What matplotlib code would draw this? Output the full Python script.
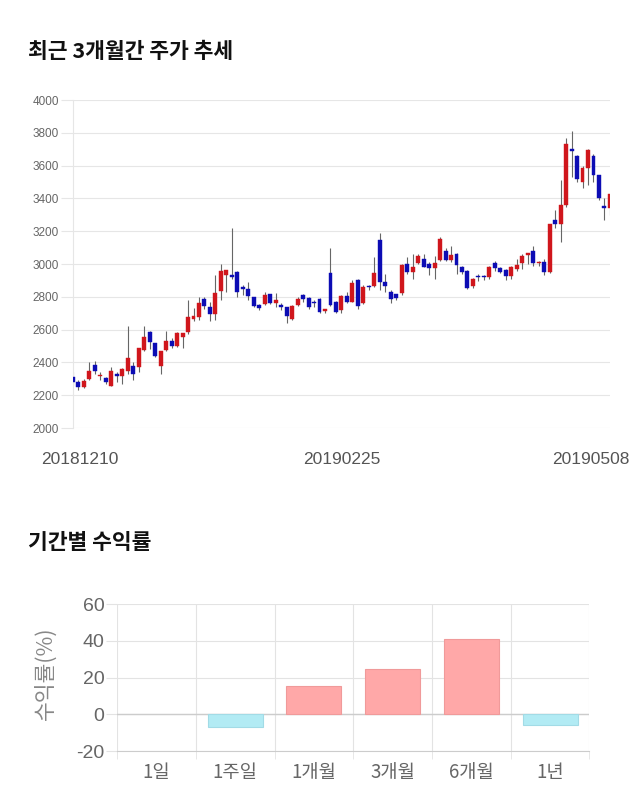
import numpy as np
import matplotlib
matplotlib.use("Agg")
import matplotlib.pyplot as plt
import matplotlib.transforms as mtransforms

plt.rcParams['font.family'] = ['Noto Sans CJK KR', 'DejaVu Sans']

# daily candles, 20181210 .. 20190508
opens = [2310, 2280, 2250, 2300, 2385, 2315, 2305, 2258, 2325, 2315,
         2350, 2380, 2370, 2475, 2585, 2518, 2380, 2477, 2528, 2500,
         2554, 2585, 2665, 2674, 2785, 2737, 2694, 2838, 2934, 2930,
         2950, 2855, 2847, 2798, 2751, 2757, 2816, 2761, 2751, 2735,
         2666, 2751, 2812, 2792, 2768, 2786, 2714, 2944, 2767, 2717,
         2806, 2771, 2903, 2761, 2865, 2867, 3147, 2893, 2832, 2816,
         2822, 3000, 2954, 3005, 3031, 3000, 2974, 3025, 3082, 3025,
         3062, 2980, 2958, 2863, 2922, 2922, 2920, 3009, 2974, 2964,
         2924, 2968, 3005, 3056, 3082, 3005, 3011, 2950, 3269, 3244,
         3360, 3700, 3658, 3502, 3583, 3660, 3543, 3354, 3340]
highs = [2340, 2290, 2300, 2400, 2410, 2340, 2310, 2370, 2340, 2365,
         2625, 2400, 2490, 2620, 2590, 2520, 2470, 2590, 2550, 2585,
         2580, 2780, 2730, 2800, 2800, 2770, 2935, 3000, 2965, 3220,
         2955, 2870, 2890, 2800, 2755, 2830, 2820, 2825, 2760, 2740,
         2750, 2800, 2820, 2800, 2780, 2790, 2725, 3095, 2775, 2810,
         2830, 2900, 2910, 2870, 2870, 3045, 3190, 2940, 2840, 2820,
         3000, 3040, 3060, 3060, 3060, 3010, 3050, 3165, 3100, 3110,
         3070, 2990, 2965, 2915, 2940, 2935, 2985, 3020, 2980, 2970,
         2990, 3030, 3060, 3070, 3110, 3020, 3030, 3245, 3330, 3510,
         3770, 3810, 3665, 3600, 3700, 3670, 3545, 3400, 3430]
lows = [2260, 2230, 2245, 2290, 2330, 2290, 2270, 2255, 2280, 2270,
        2330, 2290, 2340, 2470, 2480, 2430, 2330, 2470, 2485, 2495,
        2490, 2575, 2655, 2660, 2725, 2650, 2660, 2780, 2830, 2910,
        2800, 2810, 2780, 2740, 2720, 2750, 2755, 2740, 2720, 2640,
        2660, 2745, 2770, 2725, 2740, 2700, 2700, 2745, 2700, 2700,
        2765, 2770, 2725, 2755, 2840, 2860, 2840, 2830, 2760, 2780,
        2810, 2940, 2910, 3000, 2980, 2930, 2910, 3020, 3020, 3010,
        2940, 2940, 2850, 2855, 2895, 2900, 2910, 2960, 2945, 2900,
        2910, 2960, 2970, 3000, 2990, 2990, 2930, 2945, 3220, 3135,
        3350, 3530, 3500, 3465, 3480, 3500, 3390, 3270, 3300]
closes = [2280, 2250, 2285, 2350, 2350, 2325, 2278, 2350, 2318, 2360,
          2425, 2330, 2487, 2555, 2525, 2440, 2467, 2532, 2500, 2578,
          2578, 2674, 2680, 2760, 2741, 2694, 2822, 2958, 2962, 2920,
          2830, 2848, 2802, 2747, 2730, 2812, 2761, 2780, 2735, 2686,
          2747, 2786, 2786, 2735, 2762, 2706, 2720, 2751, 2706, 2806,
          2771, 2883, 2747, 2857, 2860, 2948, 2893, 2863, 2788, 2792,
          2995, 2950, 2980, 3051, 2984, 2975, 3009, 3153, 3025, 3056,
          2995, 2954, 2853, 2909, 2918, 2918, 2980, 2974, 2954, 2924,
          2980, 2995, 3050, 3066, 3005, 3015, 2950, 3244, 3244, 3360,
          3732, 3692, 3516, 3583, 3695, 3543, 3400, 3344, 3427]
date_labels = ['20181210', '20190225', '20190508']
date_index = [0, 49, 98]
price_ticks = [2000, 2200, 2400, 2600, 2800, 3000, 3200, 3400, 3600, 3800, 4000]

# period returns
periods = ['1일', '1주일', '1개월', '3개월', '6개월', '1년']
returns = [0.0, -6.7, 15.5, 24.5, 40.9, -5.6]

fig = plt.figure(figsize=(6.4, 8.1), dpi=100)

fig.text(0.043, 0.936, '최근 3개월간 주가 추세', fontsize=15.5, fontweight='bold',
         va='center', ha='left', color='#111111')
fig.text(0.043, 0.330, '기간별 수익률', fontsize=15.5, fontweight='bold',
         va='center', ha='left', color='#111111')

# ---- candles
ax = fig.add_axes([0.114, 0.4716, 0.839, 0.4049])
o = np.array(opens)
h = np.array(highs)
l = np.array(lows)
c = np.array(closes)
idx = np.arange(len(o))
up = c > o
cols = np.where(up, '#d0161c', '#0c0cb4')
ax.vlines(idx, l, h, color='#666666', linewidth=0.8, zorder=2)
body_lo = np.minimum(o, c)
body_h = np.maximum(np.abs(c - o), 9)
ax.bar(idx, body_h, bottom=body_lo, width=0.72, color=cols, edgecolor=cols,
       linewidth=0.3, zorder=3)

ax.set_xlim(0, len(o) - 1)
ax.set_ylim(2000, 4000)
ax.set_yticks(price_ticks)
ax.set_yticklabels([str(t) for t in price_ticks], family='Liberation Sans',
                   fontsize=8.5, color='#666666')
ax.set_xticks(date_index)
ax.set_xticklabels(date_labels, family='Liberation Sans', fontsize=12.5, color='#555555')
ax.tick_params(axis='y', length=9, width=0.8, color='#e6e6e6', pad=1)
ax.tick_params(axis='x', length=0, pad=17)
shifts = [0.07, 0.0, -0.19]
for lab, dx in zip(ax.get_xticklabels(), shifts):
    lab.set_transform(lab.get_transform() +
                      mtransforms.ScaledTranslation(dx, 0, fig.dpi_scale_trans))
ax.grid(axis='y', color='#e6e6e6', linewidth=0.8)
ax.set_axisbelow(True)
for s in ['top', 'right', 'bottom']:
    ax.spines[s].set_visible(False)
ax.spines['left'].set_color('#e6e6e6')

# ---- returns
bx = fig.add_axes([0.183, 0.0728, 0.738, 0.1815])
x = np.arange(len(periods))
r = np.array(returns)
fc = np.where(r >= 0, '#ffa8a8', '#b2ebf4')
ec = np.where(r >= 0, '#f09a9a', '#a2dbe6')
lw = np.where(r == 0, 0.0, 0.8)
bx.bar(x, r, width=0.7, color=fc, edgecolor=ec, linewidth=lw, zorder=3)
bx.set_xlim(-0.5, len(periods) - 0.5)
bx.set_ylim(-20, 60)
bx.set_yticks([-20, 0, 20, 40, 60])
bx.set_yticklabels(['-20', '0', '20', '40', '60'], family='Liberation Sans',
                   fontsize=14, color='#666666')
bx.set_xticks(x)
bx.set_xticklabels(periods, fontsize=13.5, color='#666666')
bx.set_xticks(np.arange(len(periods) + 1) - 0.5, minor=True)
bx.tick_params(axis='x', which='major', length=0, pad=8)
bx.tick_params(axis='x', which='minor', length=6, color='#e3e3e3')
bx.tick_params(axis='y', length=8, color='#e3e3e3', pad=1)
bx.grid(axis='y', color='#e3e3e3', linewidth=0.8)
bx.grid(axis='x', which='minor', color='#e3e3e3', linewidth=0.8)
bx.axhline(0, color='#cccccc', linewidth=1.0, zorder=2)
bx.set_axisbelow(True)
for s in ['top', 'right', 'left']:
    bx.spines[s].set_visible(False)
bx.spines['bottom'].set_color('#cccccc')
bx.set_ylabel('수익률(%)', fontsize=15.5, color='#888888')
bx.yaxis.set_label_coords(-0.128, 0.53)

fig.savefig('out.png', dpi=100)
